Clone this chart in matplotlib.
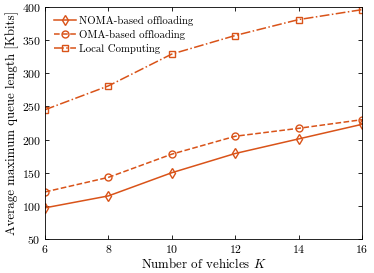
import matplotlib
matplotlib.use('Agg')
import matplotlib.pyplot as plt

plt.rcParams['font.family'] = 'cmr10'
plt.rcParams['mathtext.fontset'] = 'cm'
plt.rcParams['axes.formatter.use_mathtext'] = True

K = [6, 8, 10, 12, 14, 16]
noma = [97, 115, 150, 179, 201, 223]
oma = [121, 143, 178, 205, 217, 230]
local = [245, 281, 329, 357, 381, 396]

col = '#D95319'

fig = plt.figure(figsize=(3.74, 2.73), dpi=100)
ax = fig.add_axes([45/374, 1-239/273, (362-45)/374, (239-7)/273])

ax.plot(K, noma, '-', color=col, marker='d', mfc='none', ms=5.5, mew=1.0, lw=1.1, label='NOMA-based offloading')
ax.plot(K, oma, '--', color=col, marker='o', mfc='none', ms=5, mew=1.0, lw=1.1, label='OMA-based offloading')
ax.plot(K, local, '-.', color=col, marker='s', mfc='none', ms=4.5, mew=1.0, lw=1.1, label='Local Computing')

ax.set_xlim(6, 16)
ax.set_ylim(50, 400)
ax.set_xticks([6, 8, 10, 12, 14, 16])
ax.set_yticks(range(50, 401, 50))
ax.tick_params(direction='in', top=True, right=True, labelsize=8.5, length=3, width=0.6, pad=3)
for s in ax.spines.values():
    s.set_linewidth(0.6)

ax.set_xlabel('Number of vehicles $K$', fontsize=9.3, labelpad=1)
ax.set_ylabel('Average maximum queue length [Kbits]', fontsize=9.3, labelpad=2)
ax.legend(loc='upper left', frameon=False, fontsize=7.8, handlelength=2.0,
          handletextpad=0.3, labelspacing=0.35, borderaxespad=0.5, borderpad=0.35)

fig.savefig('out.png', dpi=100)
